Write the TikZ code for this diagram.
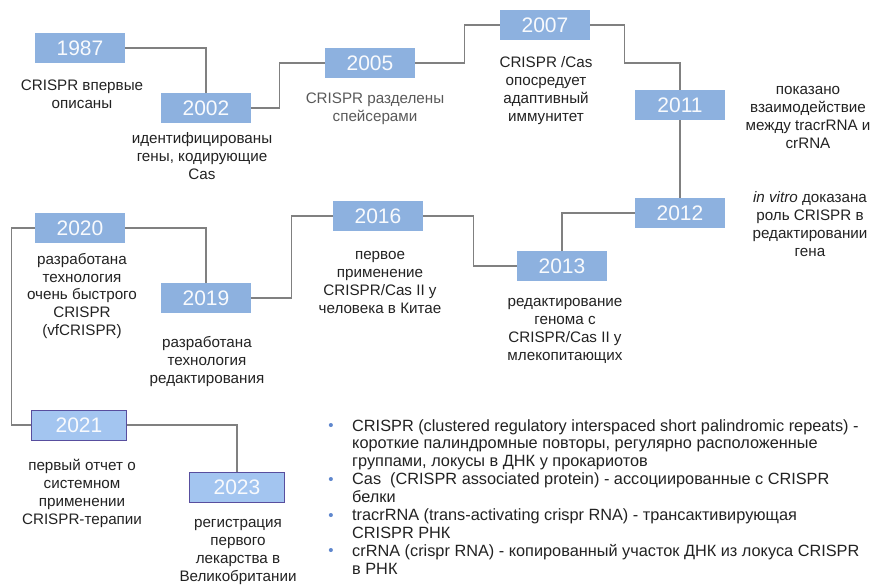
\documentclass[tikz,border=0pt]{standalone}
\usepackage{fontspec}
\setmainfont{Liberation Sans}
\usepackage{tikz}
\usetikzlibrary{calc}
\definecolor{yearblue}{RGB}{141,177,223}
\definecolor{lightyear}{RGB}{163,197,240}
\definecolor{yearedge}{RGB}{88,78,158}
\definecolor{linkgray}{RGB}{128,128,128}
\definecolor{txtgray}{RGB}{34,34,34}
\definecolor{dotblue}{RGB}{95,135,205}
\begin{document}
\begin{tikzpicture}[x=1pt, y=1pt,
	yearbox/.style={fill=yearblue, minimum width=90pt, minimum height=30pt, inner sep=0pt,
		text=white!94!yearblue, font=\fontsize{21}{24}\selectfont},
	newbox/.style={yearbox, fill=lightyear, draw=yearedge, line width=0.8pt, minimum width=95pt},
	note/.style={align=center, inner sep=0pt, text=txtgray, font=\fontsize{15.2}{18}\selectfont},
	link/.style={draw=linkgray, line width=1.1pt}]
	\useasboundingbox (0,0) rectangle (871,-588);
	% year boxes
	\node[yearbox] (y1987) at (80,-48) {1987};
	\node[yearbox] (y2002) at (206,-108) {2002};
	\node[yearbox] (y2005) at (370,-63) {2005};
	\node[yearbox] (y2007) at (545,-25) {2007};
	\node[yearbox] (y2011) at (680,-105) {2011};
	\node[yearbox] (y2012) at (680,-213) {2012};
	\node[yearbox] (y2013) at (562,-266) {2013};
	\node[yearbox] (y2016) at (378,-216) {2016};
	\node[yearbox] (y2019) at (206,-298) {2019};
	\node[yearbox] (y2020) at (80,-228) {2020};
	\node[newbox] (y2021) at (79,-425) {2021};
	\node[newbox] (y2023) at (237,-487) {2023};
	% links
	\path[link] (y1987.east) -| (y2002.north);
	\path[link] (y2002.east) -- ++(28,0) |- (y2005.west);
	\path[link] (y2005.east) -- ++(49,0) |- (y2007.west);
	\path[link] (y2007.east) -- ++(34,0) -- ++(0,-38) -| (y2011.north);
	\path[link] (y2011.south) -- (y2012.north);
	\path[link] (y2012.west) -| (y2013.north);
	\path[link] (y2013.west) -- ++(-43,0) |- (y2016.east);
	\path[link] (y2016.west) -- ++(-41,0) |- (y2019.east);
	\path[link] (y2019.north) |- (y2020.east);
	\path[link] (y2020.west) -- ++(-23,0) |- (y2021.west);
	\path[link] (y2021.east) -| (y2023.north);
	% notes
	\node[note] (t1987) at (82,-94) {CRISPR впервые\\описаны};
	\node[note] (t2002) at (202,-156) {идентифицированы\\гены, кодирующие\\Cas};
	\node[note, text=black!65] (t2005) at (375,-108.5) {CRISPR разделены\\спейсерами};
	\node[note] (t2007) at (546,-91) {CRISPR /Cas\\опосредует\\адаптивный\\иммунитет};
	\node[note] (t2011) at (808,-117) {показано\\взаимодействие\\между tracrRNA и\\crRNA};
	\node[note] (t2012) at (810,-224) {\textit{in vitro} доказана\\роль CRISPR в\\редактировании\\гена};
	\node[note] (t2013) at (565,-331) {редактирование\\генома с\\CRISPR/Cas II у\\млекопитающих};
	\node[note] (t2016) at (380,-282) {первое\\применение\\CRISPR/Cas II у\\человека в Китае};
	\node[note] (t2019) at (207,-362) {разработана\\технология\\редактирования};
	\node[note] (t2020) at (82,-296) {разработана\\технология\\очень быстрого\\CRISPR\\(vfCRISPR)};
	\node[note] (t2021) at (82,-493) {первый отчет о\\системном\\применении\\CRISPR-терапии};
	\node[note] (t2023) at (238,-552) {регистрация\\первого\\лекарства в\\Великобритании};
	% glossary
	\node[note, align=left, anchor=north west, font=\fontsize{16.3}{17.9}\selectfont] (gloss) at (352,-419) {%
		CRISPR (clustered regulatory interspaced short palindromic repeats) -\\
		короткие палиндромные повторы, регулярно расположенные\\
		группами, локусы в ДНК у прокариотов\\
		Cas\ \ (CRISPR associated protein) - ассоциированные с CRISPR\\
		белки\\
		tracrRNA (trans-activating crispr RNA) - трансактивирующая\\
		CRISPR РНК\\
		crRNA (crispr RNA) - копированный участок ДНК из локуса CRISPR\\
		в РНК};
	\foreach \k in {0,3,5,7}
		\node[text=dotblue, inner sep=0pt, font=\fontsize{15}{15}\selectfont] (dot\k) at (331,-427-17.9*\k) {•};
\end{tikzpicture}
\end{document}
